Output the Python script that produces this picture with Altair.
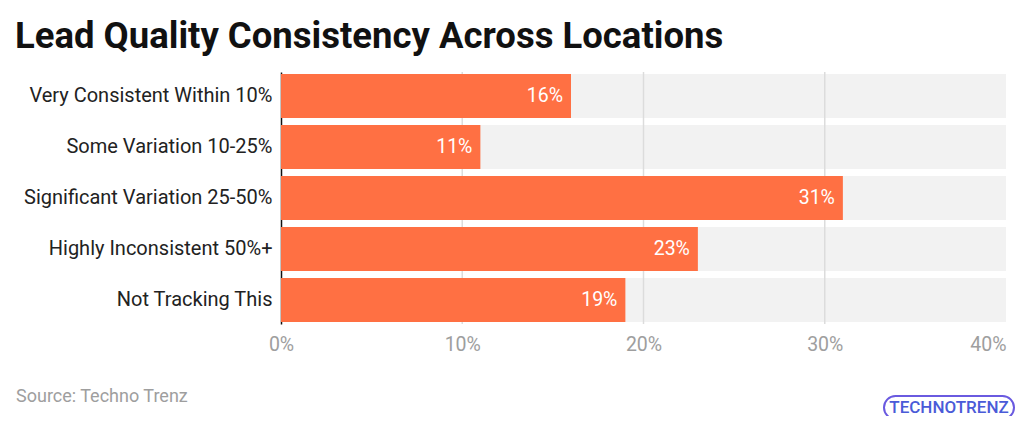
import altair as alt
import pandas as pd

categories = [
    "Very Consistent Within 10%",
    "Some Variation 10-25%",
    "Significant Variation 25-50%",
    "Highly Inconsistent 50%+",
    "Not Tracking This",
]
shares = [16, 11, 31, 23, 19]
axis_max = 40
grid_ticks = [10, 20, 30]

df = pd.DataFrame({"category": categories, "share": shares, "full": [axis_max] * len(categories)})
df["label"] = df["share"].astype(str) + "%"
grid = pd.DataFrame({"tick": grid_ticks})

FONT = "Roboto"
ORANGE = "#FF7043"

y_enc = alt.Y(
    "category:N",
    sort=categories,
    title=None,
    scale=alt.Scale(paddingInner=0.14, paddingOuter=0.04),
    axis=alt.Axis(
        domain=True, domainColor="#111111", domainWidth=1.5, ticks=False,
        labelFontSize=20, labelColor="#222222", labelFont=FONT, labelPadding=9,
        labelLimit=300,
    ),
)
x_scale = alt.Scale(domain=[0, axis_max])

background = alt.Chart(df).mark_bar(color="#F2F2F2").encode(
    x=alt.X(
        "full:Q", scale=x_scale, title=None,
        axis=alt.Axis(
            values=[0, 10, 20, 30, 40], labelExpr="datum.value + '%'",
            grid=False, ticks=False, domain=False,
            labelFontSize=19.5, labelColor="#9E9E9E", labelFont=FONT, labelPadding=11,
            labelAlign=alt.expr("datum.value == 40 ? 'right' : 'center'"),
        ),
    ),
    y=y_enc,
)

rules = alt.Chart(grid).mark_rule(color="#DCDCDC", strokeWidth=1.5).encode(
    x=alt.X("tick:Q", scale=x_scale),
)

bars = alt.Chart(df).mark_bar(color=ORANGE).encode(
    x=alt.X("share:Q", scale=x_scale),
    y=y_enc,
)

labels = alt.Chart(df).mark_text(
    align="right", baseline="middle", dx=-8, color="white", fontSize=19.5, font=FONT
).encode(
    x=alt.X("share:Q", scale=x_scale),
    y=y_enc,
    text="label:N",
)

source = alt.Chart(pd.DataFrame({"t": ["Source: Techno Trenz"]})).mark_text(
    align="left", baseline="middle", color="#9E9E9E", fontSize=18, font=FONT
).encode(x=alt.value(-265), y=alt.value(325), text="t:N")

logo_box = alt.Chart(pd.DataFrame({"t": [""]})).mark_rect(
    fill="white", stroke="#6A5AE0", strokeWidth=2, cornerRadius=12
).encode(x=alt.value(603), x2=alt.value(733), y=alt.value(324), y2=alt.value(347))

logo = alt.Chart(pd.DataFrame({"t": ["TECHNOTRENZ"]})).mark_text(
    align="center", baseline="middle", color="#4A5BD8", fontSize=17, font=FONT,
    fontWeight=500,
).encode(x=alt.value(668), y=alt.value(336), text="t:N")

chart = alt.layer(background, rules, bars, labels, source, logo_box, logo).properties(
    width=725,
    height=252,
    padding={"left": 273, "top": 64, "right": 10, "bottom": 92},
    autosize=alt.AutoSizeParams(type="none"),
    title=alt.TitleParams(
        "Lead Quality Consistency Across Locations",
        anchor="start", frame="bounds", font=FONT, fontSize=36.5, fontWeight="bold",
        color="#111111", dx=-1, offset=16,
    ),
).configure_view(stroke=None)

chart.save("out.html", embed_options={"renderer": "svg", "actions": False})
